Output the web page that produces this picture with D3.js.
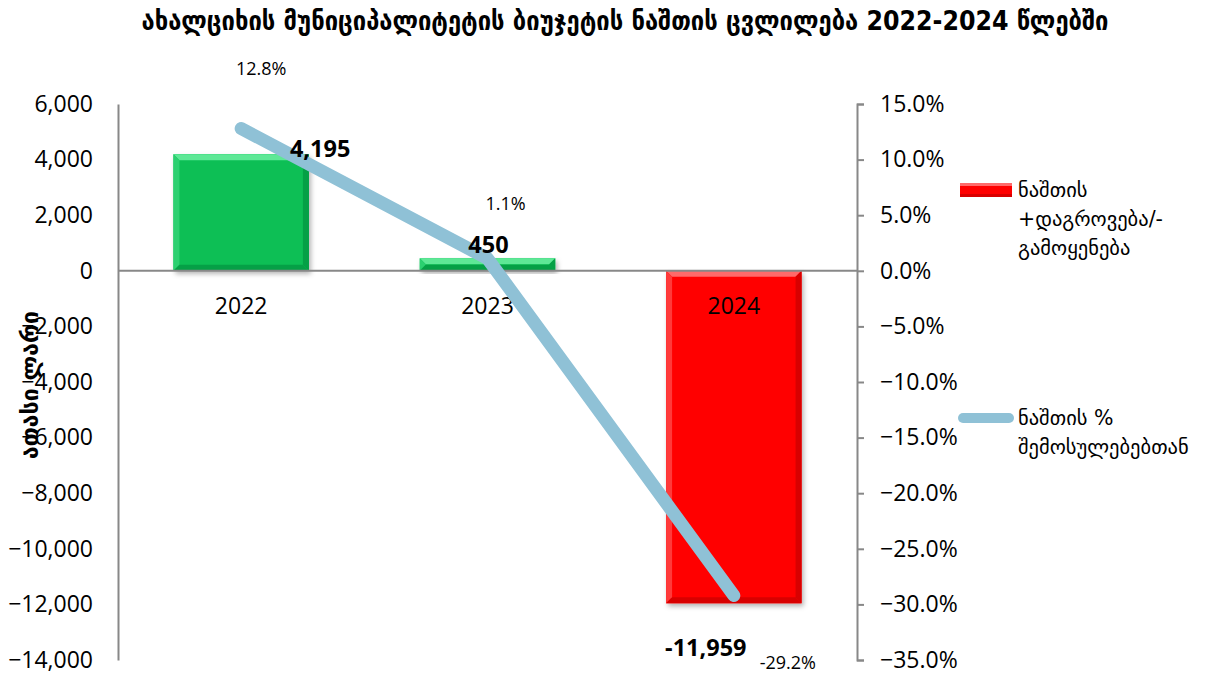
<!DOCTYPE html>
<html>
<head>
<meta charset="utf-8">
<script src="https://cdn.jsdelivr.net/npm/d3@7"></script>
<style>
  html, body { margin: 0; padding: 0; background: #fff; }
  svg { display: block; }
</style>
</head>
<body>
<svg id="chart" width="1216" height="674"></svg>
<script>
// ---- data ----
const categories = ["2022", "2023", "2024"];
const balanceValues = [4195, 450, -11959];
const balanceLabels = ["4,195", "450", "-11,959"];
const pctValues = [12.8, 1.1, -29.2];
const pctLabels = ["12.8%", "1.1%", "-29.2%"];
const leftTicks = [6000, 4000, 2000, 0, -2000, -4000, -6000, -8000, -10000, -12000, -14000];
const rightTicks = [15, 10, 5, 0, -5, -10, -15, -20, -25, -30, -35];
const titleText = "ახალციხის მუნიციპალიტეტის ბიუჯეტის ნაშთის ცვლილება 2022-2024 წლებში";
const yTitle = "ათასი ლარი";
const legendBar = ["ნაშთის", "+დაგროვება/-", "გამოყენება"];
const legendLine = ["ნაშთის %", "შემოსულებებთან"];

// ---- layout ----
const plotLeft = 118, plotRight = 857, plotTop = 104, plotBottom = 660;
const valueLabelOffset = [[79, -6], [1, -14], [-28, 44]];   // relative to bar end
const pctLabelOffset = [[20, -60], [18, -56], [54, 66]];     // relative to line point
const numFont = "'Open Sans', 'Liberation Sans', sans-serif";
const geoFont = "'DejaVu Sans', sans-serif";

const svg = d3.select("#chart");
const defs = svg.append("defs");
const f = defs.append("filter").attr("id", "shadow").attr("x", "-10%").attr("y", "-10%").attr("width", "130%").attr("height", "130%");
f.append("feDropShadow").attr("dx", 2).attr("dy", 3).attr("stdDeviation", 2.5).attr("flood-color", "#000").attr("flood-opacity", 0.3);

const x = d3.scaleBand().domain(categories).range([plotLeft, plotRight]).paddingInner(0.45).paddingOuter(0.225);
const yL = d3.scaleLinear().domain([-14000, 6000]).range([plotBottom, plotTop]);
const yR = d3.scaleLinear().domain([-35, 15]).range([plotBottom, plotTop]);

// Title
svg.append("text").attr("x", 625).attr("y", 30).attr("text-anchor", "middle")
  .attr("font-family", "'DejaVu Sans Condensed', 'DejaVu Sans', sans-serif")
  .attr("font-weight", "bold").attr("font-size", 26.4).attr("fill", "#000").text(titleText);

// Left axis
const gL = svg.append("g").attr("transform", `translate(${plotLeft},0)`)
  .call(d3.axisLeft(yL).tickValues(leftTicks).tickSize(0).tickPadding(25).tickFormat(d3.format(",")));
gL.select(".domain").attr("stroke", "#888").attr("stroke-width", 2);
gL.selectAll("text").attr("font-family", numFont).attr("font-size", 23).attr("fill", "#000");

// Right axis
const gR = svg.append("g").attr("transform", `translate(${plotRight},0)`)
  .call(d3.axisRight(yR).tickValues(rightTicks).tickSize(7).tickPadding(16).tickSizeOuter(7).tickFormat(d => d3.format(".1f")(d) + "%"));
gR.select(".domain").attr("stroke", "#888").attr("stroke-width", 2);
gR.selectAll(".tick line").attr("stroke", "#888").attr("stroke-width", 2);
gR.selectAll("text").attr("font-family", numFont).attr("font-size", 23).attr("fill", "#000");

// Bars with bevel
const bev = 6;
categories.forEach((c, i) => {
  const v = balanceValues[i];
  const x0 = x(c), w = x.bandwidth();
  const yTop = Math.min(yL(v), yL(0)), yBot = Math.max(yL(v), yL(0));
  const h = yBot - yTop;
  const pos = v >= 0;
  const base = pos ? "#07bf55" : "#ff0000";
  const light = pos ? "#5ee896" : "#ff6a6a";
  const mid = pos ? "#2bd070" : "#ff3a3a";
  const dark = pos ? "#05a046" : "#d80000";
  const g = svg.append("g");
  g.append("rect").attr("x", x0).attr("y", yTop).attr("width", w).attr("height", h)
    .attr("fill", base).attr("filter", "url(#shadow)");
  const b = Math.min(bev, h / 2);
  g.append("polygon").attr("points", [[x0, yTop], [x0 + w, yTop], [x0 + w - b, yTop + b], [x0 + b, yTop + b]].join(" ")).attr("fill", light);
  g.append("polygon").attr("points", [[x0, yTop], [x0 + b, yTop + b], [x0 + b, yBot - b], [x0, yBot]].join(" ")).attr("fill", mid);
  g.append("polygon").attr("points", [[x0 + w, yTop], [x0 + w - b, yTop + b], [x0 + w - b, yBot - b], [x0 + w, yBot]].join(" ")).attr("fill", dark);
  g.append("polygon").attr("points", [[x0, yBot], [x0 + b, yBot - b], [x0 + w - b, yBot - b], [x0 + w, yBot]].join(" ")).attr("fill", dark);
});

// Zero line
svg.append("line").attr("x1", plotLeft).attr("x2", plotRight).attr("y1", yL(0)).attr("y2", yL(0))
  .attr("stroke", "#888").attr("stroke-width", 2);

// Category labels
categories.forEach(c => {
  svg.append("text").attr("x", x(c) + x.bandwidth() / 2).attr("y", yL(0) + 43)
    .attr("text-anchor", "middle").attr("font-family", numFont).attr("font-size", 23).attr("fill", "#000").text(c);
});

// Line
const line = d3.line().x((d, i) => x(categories[i]) + x.bandwidth() / 2).y(d => yR(d));
svg.append("path").datum(pctValues).attr("d", line).attr("fill", "none")
  .attr("stroke", "#8fc1d6").attr("stroke-width", 13).attr("stroke-linecap", "round").attr("stroke-linejoin", "round");

// Value labels
categories.forEach((c, i) => {
  const v = balanceValues[i];
  const cx = x(c) + x.bandwidth() / 2;
  const yEnd = yL(v);
  svg.append("text").attr("x", cx + valueLabelOffset[i][0]).attr("y", yEnd + valueLabelOffset[i][1])
    .attr("text-anchor", "middle").attr("dominant-baseline", "central")
    .attr("font-family", numFont).attr("font-weight", "bold").attr("font-size", 23.5).attr("fill", "#000").text(balanceLabels[i]);
  svg.append("text").attr("x", cx + pctLabelOffset[i][0]).attr("y", yR(pctValues[i]) + pctLabelOffset[i][1])
    .attr("text-anchor", "middle").attr("dominant-baseline", "central")
    .attr("font-family", numFont).attr("font-size", 18).attr("fill", "#000").text(pctLabels[i]);
});

// Y title
svg.append("text").attr("transform", `translate(38,385) rotate(-90)`).attr("text-anchor", "middle")
  .attr("font-family", geoFont).attr("font-weight", "bold").attr("font-size", 23).attr("fill", "#000").text(yTitle);

// Legend
const lgx = 960;
svg.append("rect").attr("x", lgx).attr("y", 183).attr("width", 52).attr("height", 14).attr("fill", "#ff0000");
svg.append("rect").attr("x", lgx).attr("y", 183).attr("width", 52).attr("height", 3).attr("fill", "#ff6a6a");
svg.append("rect").attr("x", lgx).attr("y", 194).attr("width", 52).attr("height", 3).attr("fill", "#d80000");
legendBar.forEach((t, i) => {
  svg.append("text").attr("x", 1018).attr("y", 190 + i * 29).attr("dominant-baseline", "central")
    .attr("font-family", geoFont).attr("font-size", 20.5).attr("fill", "#000").text(t);
});
svg.append("line").attr("x1", lgx + 3).attr("x2", 1009).attr("y1", 418).attr("y2", 418)
  .attr("stroke", "#8fc1d6").attr("stroke-width", 10).attr("stroke-linecap", "round");
legendLine.forEach((t, i) => {
  svg.append("text").attr("x", 1018).attr("y", 418 + i * 29).attr("dominant-baseline", "central")
    .attr("font-family", geoFont).attr("font-size", 20.5).attr("fill", "#000").text(t);
});
</script>
</body>
</html>
